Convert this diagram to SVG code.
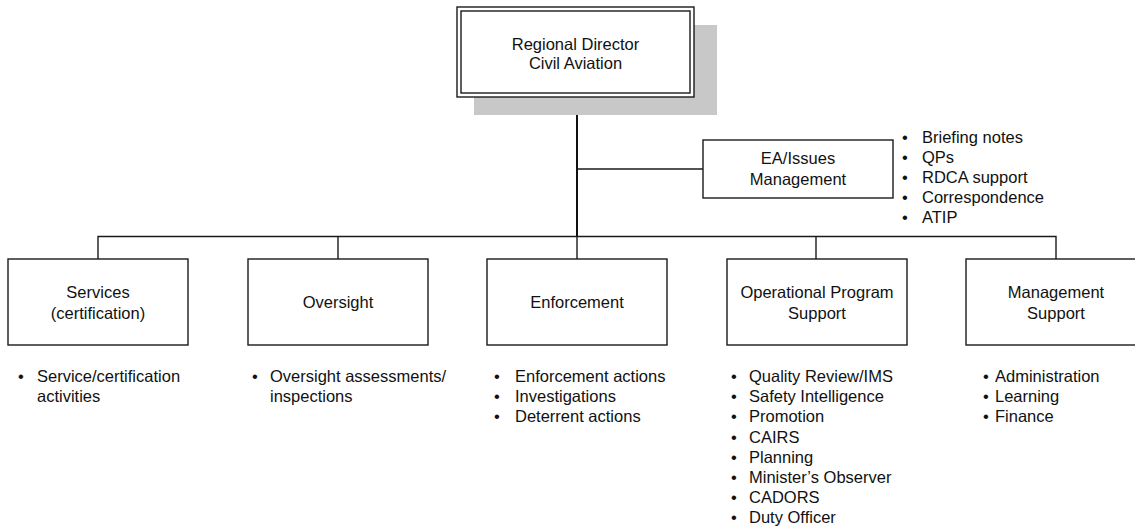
<svg xmlns="http://www.w3.org/2000/svg" width="1135" height="529" viewBox="0 0 1135 529">
  <style>
    text { font-family: "Liberation Sans", Arial, sans-serif; font-size: 16.5px; fill: #111; }
    .c { text-anchor: middle; }
    .box { fill: #fff; stroke: #1a1a1a; stroke-width: 1.4; }
    .wire { fill: none; stroke: #1a1a1a; stroke-width: 1.4; }
    .trunk { fill: none; stroke: #111; stroke-width: 2; }
  </style>

  <!-- connectors -->
  <g id="connectors">
    <path class="trunk" d="M577 97 V237"/>
    <path class="wire" d="M577 169 H703"/>
    <path class="wire" d="M98 259 V236.5 H1056 V259"/>
    <path class="wire" d="M338 236.5 V259"/>
    <path class="wire" d="M577 236.5 V259"/>
    <path class="wire" d="M816 236.5 V259"/>
  </g>

  <!-- head office -->
  <g id="regional-director">
    <rect x="474" y="25" width="243" height="90" fill="#c8c8c8"/>
    <rect class="box" x="457" y="7" width="237" height="90"/>
    <rect class="box" x="461" y="11" width="229" height="82"/>
    <text class="c" x="575.5" y="50">Regional Director</text>
    <text class="c" x="575.5" y="68.5">Civil Aviation</text>
  </g>

  <g id="ea-issues">
    <rect class="box" x="703" y="140" width="190" height="58"/>
    <text class="c" x="798" y="164">EA/Issues</text>
    <text class="c" x="798" y="184.5">Management</text>
    <text x="902" y="142.5">•</text><text x="922" y="142.5">Briefing notes</text>
    <text x="902" y="162.7">•</text><text x="922" y="162.7">QPs</text>
    <text x="902" y="182.9">•</text><text x="922" y="182.9">RDCA support</text>
    <text x="902" y="203.1">•</text><text x="922" y="203.1">Correspondence</text>
    <text x="902" y="223.3">•</text><text x="922" y="223.3">ATIP</text>
  </g>

  <g id="services">
    <rect class="box" x="8" y="259" width="180" height="86"/>
    <text class="c" x="98" y="298">Services</text>
    <text class="c" x="98" y="318.5">(certification)</text>
    <text x="18" y="382">•</text><text x="37" y="382">Service/certification</text>
    <text x="37" y="402">activities</text>
  </g>

  <g id="oversight">
    <rect class="box" x="248" y="259" width="180" height="86"/>
    <text class="c" x="338" y="308">Oversight</text>
    <text x="252" y="382">•</text><text x="270" y="382">Oversight assessments/</text>
    <text x="270" y="402">inspections</text>
  </g>

  <g id="enforcement">
    <rect class="box" x="487" y="259" width="180" height="86"/>
    <text class="c" x="577" y="308">Enforcement</text>
    <text x="494" y="382">•</text><text x="515" y="382">Enforcement actions</text>
    <text x="494" y="402.2">•</text><text x="515" y="402.2">Investigations</text>
    <text x="494" y="422.4">•</text><text x="515" y="422.4">Deterrent actions</text>
  </g>

  <g id="operational-program-support">
    <rect class="box" x="727" y="259" width="180" height="86"/>
    <text class="c" x="817" y="298">Operational Program</text>
    <text class="c" x="817" y="318.5">Support</text>
    <text x="731" y="382">•</text><text x="749" y="382">Quality Review/IMS</text>
    <text x="731" y="402.2">•</text><text x="749" y="402.2">Safety Intelligence</text>
    <text x="731" y="422.4">•</text><text x="749" y="422.4">Promotion</text>
    <text x="731" y="442.6">•</text><text x="749" y="442.6">CAIRS</text>
    <text x="731" y="462.8">•</text><text x="749" y="462.8">Planning</text>
    <text x="731" y="483">•</text><text x="749" y="483">Minister’s Observer</text>
    <text x="731" y="503.2">•</text><text x="749" y="503.2">CADORS</text>
    <text x="731" y="523.4">•</text><text x="749" y="523.4">Duty Officer</text>
  </g>

  <g id="management-support">
    <rect class="box" x="966" y="259" width="180" height="86"/>
    <text class="c" x="1056" y="298">Management</text>
    <text class="c" x="1056" y="318.5">Support</text>
    <text x="983" y="382">•</text><text x="995" y="382">Administration</text>
    <text x="983" y="402.2">•</text><text x="995" y="402.2">Learning</text>
    <text x="983" y="422.4">•</text><text x="995" y="422.4">Finance</text>
  </g>
</svg>
